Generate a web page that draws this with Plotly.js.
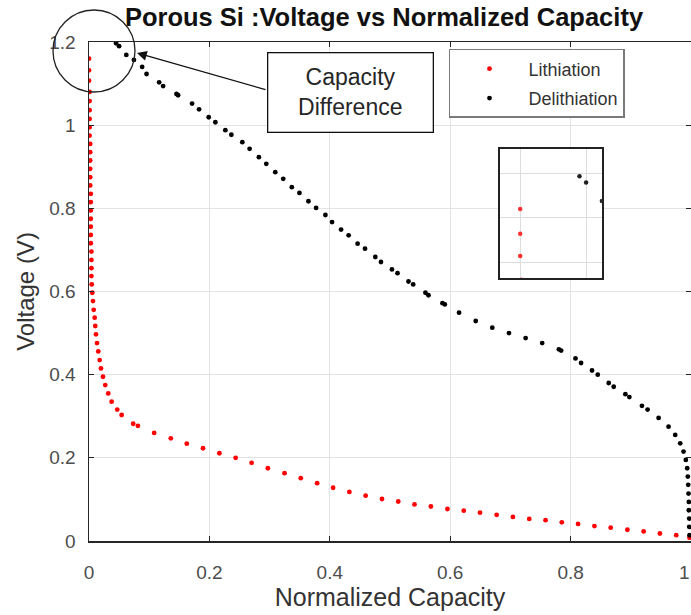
<!DOCTYPE html>
<html>
<head>
<meta charset="utf-8">
<script src="https://cdn.plot.ly/plotly-3.0.1.min.js"></script>
<style>
html,body{margin:0;padding:0;background:#fff;}
#chart{width:691px;height:615px;}
</style>
</head>
<body>
<div id="chart"></div>
<script>
// Lithiation (red) series
const lithX = [0.000,0.000,0.000,0.001,0.001,0.001,0.001,0.001,0.001,0.002,0.002,0.002,0.002,0.002,0.002,0.003,0.003,0.003,0.003,0.003,0.003,0.003,0.004,0.004,0.004,0.004,
  0.0045,0.0055,0.0066,0.0078,0.0094,0.0104,0.0116,0.0133,0.0154,0.0177,0.0199,0.0232,0.0270,0.0320,0.0376,0.0469,0.0542,0.0734,0.0812,0.1082,0.1359,0.1624,0.1894,0.2166,0.2436,0.2701,0.2971,0.3248,0.3518,0.3790,0.4055,0.4325,0.4595,0.4867,0.5137,0.5407,0.5679,0.5954,0.6225,0.6495,0.6772,0.7042,0.7313,0.7584,0.7854,0.8124,0.8396,0.8666,0.8943,0.9213,0.9483,0.9755,0.9975];
const lithY = [1.160,1.132,1.107,1.080,1.058,1.036,1.015,0.995,0.975,0.955,0.935,0.915,0.895,0.875,0.855,0.835,0.815,0.795,0.775,0.756,0.736,0.716,0.696,0.676,0.656,0.637,
  0.617,0.597,0.577,0.556,0.537,0.517,0.497,0.476,0.456,0.435,0.415,0.395,0.375,0.355,0.335,0.316,0.303,0.282,0.277,0.260,0.247,0.234,0.223,0.211,0.200,0.188,0.175,0.163,0.151,0.139,0.128,0.118,0.109,0.101,0.095,0.088,0.083,0.077,0.073,0.068,0.063,0.058,0.053,0.050,0.045,0.041,0.036,0.032,0.027,0.023,0.018,0.014,0.008];

// Delithiation (black) series
const delithX = [0.045,0.050,0.062,0.0746,0.0883,0.0956,0.1165,0.1231,0.1453,0.1480,0.1712,0.1828,0.1988,0.2099,0.2265,0.2365,0.2547,0.2668,0.2822,0.2945,0.3094,0.3226,0.3369,0.3496,0.3645,0.3773,0.3927,0.4038,0.4187,0.4313,0.4462,0.4585,0.4756,0.4850,0.5032,0.5125,0.5307,0.5385,0.5589,0.5639,0.5871,0.5911,0.6147,0.6424,0.6699,0.6976,0.7253,0.7528,0.7805,0.7843,0.8081,0.8174,0.8356,0.8451,0.8633,0.8716,0.8910,0.8976,0.9185,0.9279,0.9462,0.9627,0.9738,0.9821,0.9876,0.9914,0.9937,0.9947,0.9954,0.9959,0.9964,0.9964,0.9970,0.9970,0.9975];
const delithY = [1.197,1.190,1.169,1.157,1.140,1.123,1.103,1.094,1.075,1.072,1.052,1.038,1.019,1.007,0.988,0.977,0.959,0.943,0.923,0.907,0.887,0.871,0.851,0.837,0.817,0.801,0.784,0.767,0.749,0.735,0.715,0.703,0.683,0.671,0.653,0.644,0.624,0.617,0.597,0.591,0.572,0.569,0.549,0.529,0.513,0.500,0.488,0.476,0.461,0.458,0.439,0.428,0.410,0.400,0.380,0.371,0.353,0.346,0.325,0.316,0.296,0.275,0.255,0.235,0.215,0.195,0.175,0.155,0.135,0.114,0.094,0.074,0.054,0.034,0.014];

const xTicks = [0, 0.2, 0.4, 0.6, 0.8, 1];
const xTickText = ['0', '0.2', '0.4', '0.6', '0.8', '1'];
const yTicks = [0, 0.2, 0.4, 0.6, 0.8, 1, 1.2];
const yTickText = ['0', '0.2', '0.4', '0.6', '0.8', '1', '1.2'];

const FONT = 'Liberation Sans, Arial, sans-serif';
const TICKFONT = {family: FONT, size: 19, color: '#4d4d4d'};

// The last x tick label sits on the figure edge: draw it as a right-anchored label so it stays whole
const lastIdx = xTicks.length - 1;
const shownXText = xTickText.map((t, i) => i === lastIdx ? '' : t);

const traces = [
  {x: lithX, y: lithY, type: 'scatter', mode: 'markers', name: 'Lithiation',
   marker: {color: '#ff0000', size: 4.8}, legendgroup: 'a', xaxis: 'x', yaxis: 'y'},
  {x: delithX, y: delithY, type: 'scatter', mode: 'markers', name: 'Delithiation',
   marker: {color: '#000000', size: 4.8}, legendgroup: 'b', xaxis: 'x', yaxis: 'y'},
  {x: lithX, y: lithY, type: 'scatter', mode: 'markers', showlegend: false,
   marker: {color: '#ff3030', size: 4.5}, xaxis: 'x2', yaxis: 'y2', hoverinfo: 'skip'},
  {x: delithX, y: delithY, type: 'scatter', mode: 'markers', showlegend: false,
   marker: {color: '#202020', size: 4.5}, xaxis: 'x2', yaxis: 'y2', hoverinfo: 'skip'}
];

const layout = {
  width: 691, height: 615,
  margin: {l: 89, r: 0, t: 42, b: 74},
  paper_bgcolor: '#ffffff', plot_bgcolor: '#ffffff',
  font: {family: FONT, color: '#404040'},
  title: {text: '<b>Porous Si :Voltage vs Normalized Capacity</b>',
          font: {family: FONT, size: 25.5, color: '#111111'},
          x: 0.49, xref: 'paper', xanchor: 'center', y: 0.972, yref: 'container', yanchor: 'middle'},
  xaxis: {range: [0, 1], tickvals: xTicks, ticktext: shownXText,
          showgrid: true, gridcolor: '#e3e3e3', gridwidth: 1, zeroline: false,
          showline: true, linecolor: '#262626', linewidth: 1.5, mirror: 'ticks',
          ticks: 'inside', ticklen: 5, tickcolor: '#262626', tickwidth: 1,
          ticklabelstandoff: 14,
          tickfont: TICKFONT,
          title: {text: 'Normalized Capacity', font: {family: FONT, size: 25, color: '#333333'}, standoff: 6}},
  yaxis: {range: [0, 1.2], tickvals: yTicks, ticktext: yTickText,
          showgrid: true, gridcolor: '#e3e3e3', gridwidth: 1, zeroline: false,
          showline: true, linecolor: '#262626', linewidth: 1.5, mirror: 'ticks',
          ticks: 'inside', ticklen: 5, tickcolor: '#262626', tickwidth: 1,
          ticklabelstandoff: 8,
          tickfont: TICKFONT,
          title: {text: 'Voltage (V)', font: {family: FONT, size: 24, color: '#333333'}, standoff: 8}},
  xaxis2: {domain: [0.683, 0.852], anchor: 'y2', range: [-0.0152, 0.062], tick0: 0, dtick: 0.05,
           showticklabels: false, ticks: '', showgrid: true, gridcolor: '#dddddd', zeroline: false,
           showline: true, linecolor: '#222222', linewidth: 2, mirror: true},
  yaxis2: {domain: [0.527, 0.786], anchor: 'x2', range: [1.082, 1.228], tick0: 0, dtick: 0.05,
           showticklabels: false, ticks: '', showgrid: true, gridcolor: '#dddddd', zeroline: false,
           showline: true, linecolor: '#222222', linewidth: 2, mirror: true},
  legend: {x: 0.598, y: 0.986, xanchor: 'left', yanchor: 'top', xref: 'paper', yref: 'paper',
           bgcolor: '#ffffff', bordercolor: '#7a7a7a', borderwidth: 1.5,
           font: {family: FONT, size: 18, color: '#333333'},
           itemwidth: 68, traceorder: 'grouped', tracegroupgap: 3},
  shapes: [
    {type: 'circle', xref: 'paper', yref: 'paper', x0: -0.0598, x1: 0.0764, y0: 0.8998, y1: 1.0641,
     line: {color: '#222222', width: 1.3}, fillcolor: 'rgba(0,0,0,0)'}
  ],
  annotations: [
    {xref: 'paper', yref: 'paper', x: 0.4344, y: 0.8988, xanchor: 'center', yanchor: 'middle',
     text: 'Capacity<br>Difference', showarrow: false, align: 'center',
     font: {family: FONT, size: 23, color: '#262626'},
     bordercolor: '#111111', borderwidth: 1.3, bgcolor: '#ffffff', width: 162, height: 76},
    {xref: 'x', yref: 'y', x: 0.0797, y: 1.1735, ax: 130, ay: 37, axref: 'pixel', ayref: 'pixel',
     text: '', showarrow: true, arrowhead: 2, arrowsize: 1.5, arrowwidth: 1.3, arrowcolor: '#111111'},
    {xref: 'x', yref: 'paper', x: xTicks[lastIdx], y: -0.064, xanchor: 'right', yanchor: 'middle',
     xshift: 1, text: xTickText[lastIdx], showarrow: false, font: TICKFONT}
  ],
  showlegend: true
};

Plotly.newPlot('chart', traces, layout, {displayModeBar: false, staticPlot: true});
</script>
</body>
</html>
